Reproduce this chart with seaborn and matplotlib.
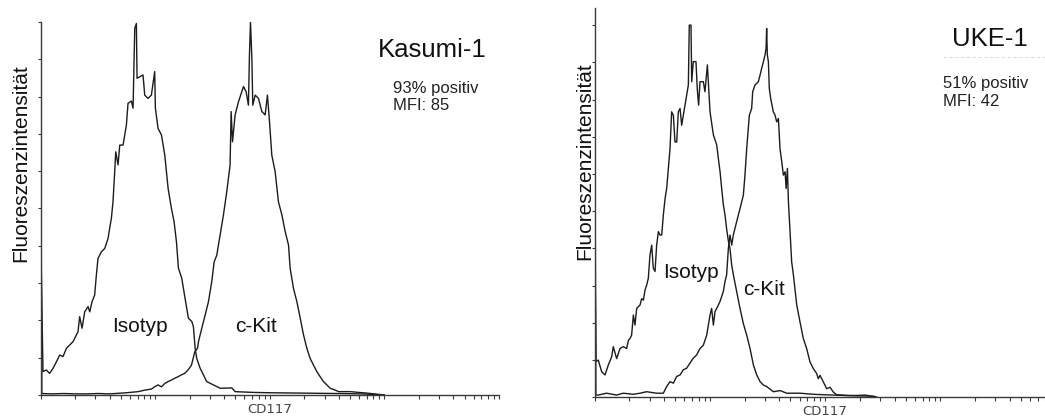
import numpy as np
import pandas as pd
import matplotlib
matplotlib.use("Agg")
import matplotlib.pyplot as plt
from matplotlib.lines import Line2D
from matplotlib.ticker import LogLocator, NullFormatter
import seaborn as sns

# ---- histogram traces: x = log10(CD117 intensity), y = % of modal count ----
kasumi_iso_log = [0.000, 0.020, 0.049, 0.078, 0.107, 0.137, 0.166, 0.195, 0.224, 0.253,
                  0.282, 0.297, 0.326, 0.340, 0.361, 0.384, 0.413, 0.428, 0.448, 0.471,
                  0.486, 0.500, 0.530, 0.559, 0.588, 0.602, 0.617, 0.631, 0.646, 0.655,
                  0.675, 0.690, 0.719, 0.748, 0.762, 0.792, 0.806, 0.821, 0.835, 0.841,
                  0.864, 0.893, 0.908, 0.937, 0.966, 0.995, 1.001, 1.024, 1.054, 1.083,
                  1.112, 1.141, 1.164, 1.185, 1.202, 1.231, 1.260, 1.289, 1.319, 1.333,
                  1.348, 1.362, 1.391, 1.420, 1.449, 1.508, 1.566, 1.668, 1.697, 1.850,
                  2.003, 2.300, 2.585, 2.800, 3.000]
kasumi_iso_val = [42.9, 6.3, 6.7, 5.8, 7.1, 8.9, 10.7, 10.3, 12.5, 13.4,
                  14.3, 15.2, 17.0, 21.0, 17.9, 22.3, 23.7, 22.3, 25.0, 26.8,
                  32.2, 36.6, 38.4, 39.3, 42.0, 44.7, 47.4, 51.8, 59.9, 65.2,
                  61.7, 67.0, 67.0, 72.4, 78.2, 78.8, 76.9, 98.3, 99.6, 84.9,
                  85.3, 85.8, 80.4, 79.5, 80.4, 86.7, 76.9, 71.5, 69.7, 64.3,
                  55.4, 50.0, 46.5, 41.0, 34.0, 31.3, 25.9, 20.6, 19.7, 18.3,
                  12.5, 9.8, 7.2, 5.4, 3.6, 2.7, 1.8, 1.9, 0.9, 0.7,
                  0.6, 0.5, 0.4, 0.3, 0.0]

kasumi_kit_log = [0.000, 0.010, 0.100, 0.200, 0.300, 0.400, 0.500, 0.600, 0.748, 0.850,
                  0.908, 0.966, 0.995, 1.024, 1.054, 1.083, 1.112, 1.141, 1.170, 1.199,
                  1.228, 1.257, 1.286, 1.316, 1.345, 1.368, 1.377, 1.406, 1.435, 1.464,
                  1.493, 1.514, 1.537, 1.551, 1.566, 1.595, 1.624, 1.653, 1.662, 1.674,
                  1.697, 1.726, 1.755, 1.770, 1.793, 1.813, 1.822, 1.831, 1.843, 1.851,
                  1.872, 1.901, 1.930, 1.959, 1.979, 1.997, 2.017, 2.046, 2.075, 2.105,
                  2.134, 2.163, 2.177, 2.206, 2.236, 2.265, 2.294, 2.323, 2.352, 2.381,
                  2.410, 2.439, 2.468, 2.498, 2.527, 2.571, 2.600, 2.700, 2.850, 3.000]
kasumi_kit_val = [80.0, 0.4, 0.3, 0.4, 0.3, 0.3, 0.4, 0.3, 0.6, 0.9,
                  1.3, 1.6, 2.2, 2.7, 2.2, 3.1, 3.6, 4.0, 4.5, 4.9,
                  5.4, 5.8, 6.7, 8.0, 11.6, 12.5, 14.3, 17.9, 21.4, 25.0,
                  30.4, 35.7, 37.5, 40.2, 42.9, 48.3, 54.5, 61.7, 76.0, 67.9,
                  75.1, 78.6, 81.3, 82.7, 81.3, 77.7, 91.2, 100.0, 90.3, 77.7,
                  80.4, 79.5, 76.0, 75.1, 80.4, 73.3, 64.3, 59.9, 51.8, 48.3,
                  43.8, 40.2, 34.0, 28.6, 25.0, 20.6, 16.1, 12.5, 9.8, 8.0,
                  6.3, 4.9, 3.6, 2.7, 1.8, 1.3, 0.9, 0.9, 0.5, 0.0]

uke_iso_log = [0.000, 0.013, 0.033, 0.062, 0.091, 0.120, 0.149, 0.163, 0.192, 0.221,
               0.250, 0.279, 0.294, 0.308, 0.322, 0.337, 0.351, 0.366, 0.395, 0.409,
               0.424, 0.438, 0.452, 0.467, 0.481, 0.496, 0.510, 0.525, 0.539, 0.554,
               0.568, 0.583, 0.597, 0.612, 0.626, 0.655, 0.669, 0.684, 0.698, 0.713,
               0.727, 0.742, 0.756, 0.785, 0.814, 0.822, 0.837, 0.843, 0.857, 0.880,
               0.892, 0.903, 0.915, 0.944, 0.958, 0.979, 1.002, 1.031, 1.060, 1.074,
               1.089, 1.103, 1.118, 1.132, 1.147, 1.161, 1.175, 1.190, 1.204, 1.233,
               1.262, 1.291, 1.320, 1.349, 1.378, 1.407, 1.436, 1.464, 1.493, 1.551,
               1.610, 1.667, 1.782, 1.900, 2.071, 2.250, 2.420, 2.450]
uke_iso_val = [55.2, 9.6, 10.0, 6.9, 6.0, 8.7, 10.9, 13.6, 10.4, 13.1,
               13.6, 13.1, 15.3, 15.8, 16.7, 22.1, 19.4, 23.9, 24.8, 26.5,
               26.1, 28.8, 30.1, 32.0, 38.2, 40.9, 34.7, 33.8, 40.9, 44.5,
               43.6, 43.6, 49.0, 53.4, 56.1, 66.8, 76.7, 75.8, 68.6, 68.6,
               76.7, 77.6, 73.1, 78.5, 83.9, 100.0, 100.0, 84.8, 90.2, 90.2,
               82.5, 78.5, 84.8, 84.8, 82.1, 89.3, 76.7, 70.5, 67.8, 64.2,
               60.6, 56.1, 51.6, 49.0, 45.0, 42.0, 40.0, 35.5, 33.0, 28.4,
               23.9, 19.8, 16.7, 13.1, 8.7, 6.0, 4.2, 3.3, 2.9, 1.5,
               1.8, 1.1, 1.1, 0.8, 0.6, 0.4, 0.3, 0.0]

uke_kit_log = [0.000, 0.012, 0.033, 0.105, 0.192, 0.250, 0.337, 0.395, 0.452, 0.539,
               0.597, 0.626, 0.655, 0.684, 0.713, 0.742, 0.770, 0.799, 0.828, 0.857,
               0.886, 0.915, 0.944, 0.973, 1.002, 1.016, 1.031, 1.045, 1.060, 1.088,
               1.117, 1.132, 1.146, 1.161, 1.175, 1.190, 1.204, 1.233, 1.248, 1.262,
               1.291, 1.305, 1.320, 1.343, 1.363, 1.372, 1.392, 1.421, 1.436, 1.450,
               1.465, 1.479, 1.488, 1.493, 1.499, 1.508, 1.516, 1.528, 1.551, 1.566,
               1.580, 1.595, 1.609, 1.624, 1.638, 1.653, 1.662, 1.673, 1.682, 1.696,
               1.710, 1.725, 1.754, 1.782, 1.811, 1.840, 1.869, 1.898, 1.927, 1.941,
               1.956, 1.985, 2.014, 2.043, 2.071, 2.100, 2.187, 2.273, 2.350, 2.450]
uke_kit_val = [104.0, 0.6, 0.6, 1.1, 0.6, 1.1, 0.8, 1.1, 1.5, 1.1,
               1.1, 2.9, 4.2, 3.8, 5.6, 6.0, 7.4, 7.8, 9.2, 10.5,
               11.4, 13.1, 14.0, 16.7, 22.1, 23.9, 19.4, 23.0, 23.9, 25.7,
               28.4, 31.1, 32.9, 40.0, 43.6, 40.9, 43.6, 47.2, 49.0, 50.7,
               54.3, 59.7, 66.8, 75.8, 77.6, 82.1, 83.9, 84.8, 86.6, 88.4,
               90.2, 92.0, 93.8, 99.1, 92.0, 90.2, 83.0, 80.3, 76.7, 75.8,
               74.0, 74.9, 66.8, 63.3, 59.7, 60.6, 56.1, 61.5, 52.5, 44.5,
               36.4, 32.9, 24.8, 20.3, 15.8, 13.1, 9.5, 7.7, 6.4, 5.0,
               5.9, 4.1, 2.3, 2.7, 1.4, 0.7, 0.5, 0.5, 0.6, 0.0]

cell_lines = ["Kasumi-1", "UKE-1"]
positive_text = ["93% positiv", "51% positiv"]
mfi_text = ["MFI: 85", "MFI: 42"]
x_label = "CD117"
y_label = "Fluoreszenzintensität"

W, H = 1045, 419
sns.set_style("white")
plt.rcParams["font.family"] = ["Liberation Sans", "DejaVu Sans"]

fig = plt.figure(figsize=(W / 100, H / 100), dpi=100)


def box(x0, y_top, x1, y_bot):
    return [x0 / W, 1 - y_bot / H, (x1 - x0) / W, (y_bot - y_top) / H]


def trace_frame(logs, vals, probe):
    return pd.DataFrame({"CD117": np.power(10.0, logs), "count": vals, "probe": probe})


LINE = "#1c1c1c"
AXC = "#3a3a3a"

panels = [
    (box(40.7, 22, 499, 395), 100.0,
     [trace_frame(kasumi_iso_log, kasumi_iso_val, "Isotyp"),
      trace_frame(kasumi_kit_log, kasumi_kit_val, "c-Kit")]),
    (box(594.5, 8, 1055.7, 397.3), 104.6,
     [trace_frame(uke_iso_log, uke_iso_val, "Isotyp"),
      trace_frame(uke_kit_log, uke_kit_val, "c-Kit")]),
]

axes = []
for rect, ytop, frames in panels:
    ax = fig.add_axes(rect)
    df = pd.concat(frames, ignore_index=True)
    sns.lineplot(data=df, x="CD117", y="count", units="probe", estimator=None,
                 sort=False, color=LINE, lw=1.0, ax=ax, legend=False)
    ax.set_xscale("log")
    ax.set_xlim(1, 1e4)
    ax.set_ylim(0, ytop)
    for s in ("top", "right"):
        ax.spines[s].set_visible(False)
    for s in ("left", "bottom"):
        ax.spines[s].set_color(AXC)
        ax.spines[s].set_linewidth(1.0)
    ax.xaxis.set_major_locator(LogLocator(base=10, subs=np.arange(1, 10), numticks=60))
    ax.xaxis.set_minor_locator(LogLocator(base=10, subs=[], numticks=60))
    ax.xaxis.set_major_formatter(NullFormatter())
    ax.set_yticks(np.arange(0, 101, 10))
    ax.tick_params(axis="x", which="both", direction="out", length=3, width=0.8,
                   color=AXC, labelbottom=False, bottom=True)
    ax.tick_params(axis="y", which="both", direction="out", length=2, width=0.8,
                   color=AXC, labelleft=False, left=True)
    ax.set_xlabel(x_label, fontfamily="DejaVu Sans", fontsize=9.5, color="#444444",
                  labelpad=2.5)
    ax.set_ylabel("")
    ax.set_facecolor("white")
    axes.append(ax)


def ftext(x, y, s, **kw):
    fig.text(x / W, 1 - y / H, s, **kw)


# axis titles on the left of each panel
ftext(21, 163, y_label, rotation=90, ha="center", va="center", fontsize=15, color="#111111")
ftext(585, 161, y_label, rotation=90, ha="center", va="center", fontsize=15, color="#111111")

# cell line names and statistics
ftext(432, 57, cell_lines[0], ha="center", va="baseline", fontsize=18.5, color="#111111")
ftext(393, 93, positive_text[0], ha="left", va="baseline", fontsize=12, color="#222222")
ftext(393, 110, mfi_text[0], ha="left", va="baseline", fontsize=12, color="#222222")

ftext(990, 46, cell_lines[1], ha="center", va="baseline", fontsize=18.5, color="#111111")
ftext(943, 88, positive_text[1], ha="left", va="baseline", fontsize=12, color="#222222")
ftext(943, 106, mfi_text[1], ha="left", va="baseline", fontsize=12, color="#222222")
fig.add_artist(Line2D([943 / W, 1.0], [1 - 57 / H, 1 - 57 / H], color="#d4d4d4",
                      lw=0.6, ls=(0, (4, 3))))

# curve names
ftext(112, 332, "Isotyp", ha="left", va="baseline", fontsize=15, color="#111111")
ftext(235, 332, "c-Kit", ha="left", va="baseline", fontsize=15, color="#111111")
ftext(663, 278, "Isotyp", ha="left", va="baseline", fontsize=15, color="#111111")
ftext(743, 295, "c-Kit", ha="left", va="baseline", fontsize=15, color="#111111")

fig.savefig("out.png", dpi=100, facecolor="white")
